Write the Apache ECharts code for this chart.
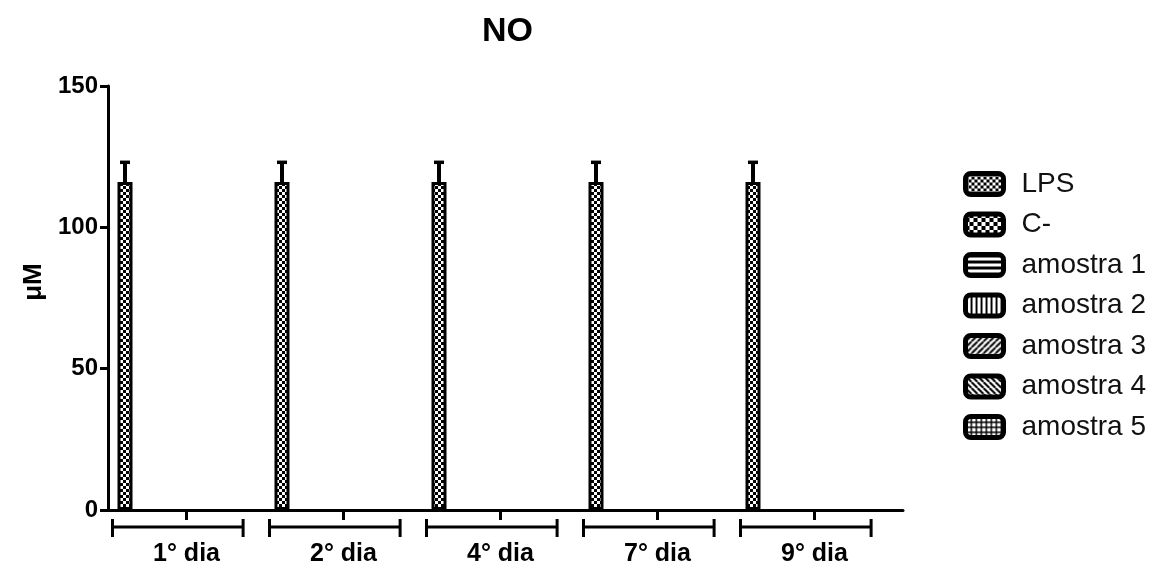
<!DOCTYPE html>
<html>
<head>
<meta charset="utf-8">
<script src="https://cdn.jsdelivr.net/npm/echarts@6/dist/echarts.min.js"></script>
<style>
  html, body { margin: 0; padding: 0; background: #fff; }
  #chart { width: 1150px; height: 563px; }
</style>
</head>
<body>
<div id="chart"></div>
<script>
// Nitric oxide (µM) per treatment and day
const categories = ['1° dia', '2° dia', '4° dia', '7° dia', '9° dia'];
const seriesNames = ['LPS', 'C-', 'amostra 1', 'amostra 2', 'amostra 3', 'amostra 4', 'amostra 5'];
const lps      = [116, 116, 116, 116, 116];
const lpsErr   = [7, 7, 7, 7, 7];
const cNeg     = [0, 0, 0, 0, 0];
const amostra1 = [0, 0, 0, 0, 0];
const amostra2 = [0, 0, 0, 0, 0];
const amostra3 = [0, 0, 0, 0, 0];
const amostra4 = [0, 0, 0, 0, 0];
const amostra5 = [0, 0, 0, 0, 0];
const yTicks   = [0, 50, 100, 150];

const seriesValues = [lps, cNeg, amostra1, amostra2, amostra3, amostra4, amostra5];
const seriesErrors = [lpsErr, null, null, null, null, null, null];

const FONT = '"Liberation Sans", Arial, sans-serif';

// black & white fill patterns
function pattern(size, bg, draw) {
  const c = document.createElement('canvas');
  c.width = c.height = size;
  const ctx = c.getContext('2d');
  ctx.fillStyle = bg;
  ctx.fillRect(0, 0, size, size);
  draw(ctx, size);
  return { image: c, repeat: 'repeat' };
}
const fills = [
  // fine checker
  pattern(6, '#000', (ctx) => { ctx.fillStyle = '#fff'; ctx.fillRect(0, 0, 3, 3); ctx.fillRect(3, 3, 3, 3); }),
  // coarse checker
  pattern(8, '#000', (ctx) => { ctx.fillStyle = '#fff'; ctx.fillRect(0, 0, 4, 4); ctx.fillRect(4, 4, 4, 4); }),
  // horizontal lines
  pattern(6, '#fff', (ctx) => { ctx.fillStyle = '#000'; ctx.fillRect(0, 0, 6, 3); }),
  // vertical lines
  pattern(5, '#fff', (ctx) => { ctx.fillStyle = '#000'; ctx.fillRect(0, 0, 2, 5); }),
  // forward diagonals
  pattern(6, '#fff', (ctx, s) => {
    ctx.strokeStyle = '#000'; ctx.lineWidth = 2;
    ctx.beginPath();
    for (let k = -s; k <= s; k += s) { ctx.moveTo(k, s); ctx.lineTo(k + s, 0); }
    ctx.stroke();
  }),
  // backward diagonals
  pattern(6, '#fff', (ctx, s) => {
    ctx.strokeStyle = '#000'; ctx.lineWidth = 2;
    ctx.beginPath();
    for (let k = -s; k <= s; k += s) { ctx.moveTo(k, 0); ctx.lineTo(k + s, s); }
    ctx.stroke();
  }),
  // small grid
  pattern(5, '#fff', (ctx) => { ctx.fillStyle = '#000'; ctx.fillRect(0, 0, 5, 1.5); ctx.fillRect(0, 0, 1.5, 5); })
];

// bar geometry
const BAR_W = 15;
const BAR_GAP = 0.24;
const groupW = seriesNames.length * BAR_W + (seriesNames.length - 1) * BAR_W * BAR_GAP;
function barCenterOffset(si) {
  return -groupW / 2 + BAR_W / 2 + si * BAR_W * (1 + BAR_GAP);
}

// empty bars get no outline so nothing is stroked along the baseline
const barSeries = seriesNames.map((name, si) => ({
  name,
  type: 'bar',
  xAxisIndex: 0,
  yAxisIndex: 0,
  barWidth: BAR_W,
  barGap: (BAR_GAP * 100) + '%',
  data: seriesValues[si].map((v) => (v === 0 ? { value: v, itemStyle: { borderWidth: 0, opacity: 0 } } : v)),
  itemStyle: { color: fills[si], borderColor: '#000', borderWidth: 3 },
  emphasis: { disabled: true },
  z: 2
}));

// error bars (mean + SEM)
const errorData = [];
seriesValues.forEach((vals, si) => {
  if (!seriesErrors[si]) return;
  vals.forEach((v, i) => errorData.push([i, v, v + seriesErrors[si][i], si]));
});
const errorSeries = {
  type: 'custom',
  xAxisIndex: 0,
  yAxisIndex: 0,
  z: 3,
  clip: false,
  silent: true,
  data: errorData,
  renderItem(params, api) {
    const i = api.value(0);
    const base = api.coord([i, api.value(1)]);
    const top = api.coord([i, api.value(2)]);
    const x = base[0] + barCenterOffset(api.value(3));
    return {
      type: 'group',
      children: [
        { type: 'line', shape: { x1: x, y1: base[1], x2: x, y2: top[1] }, style: { stroke: '#000', lineWidth: 4 } },
        { type: 'line', shape: { x1: x - 5, y1: top[1], x2: x + 5, y2: top[1] }, style: { stroke: '#000', lineWidth: 3.5 } }
      ]
    };
  }
};

// bracket under each group of bars
const bracketSeries = {
  type: 'custom',
  xAxisIndex: 0,
  yAxisIndex: 0,
  z: 3,
  clip: false,
  silent: true,
  data: categories.map((c, i) => [i, 0]),
  renderItem(params, api) {
    const p = api.coord([api.value(0), 0]);
    const x0 = p[0] - groupW / 2 - 5;
    const x1 = p[0] + groupW / 2 - 1;
    const y = p[1] + 17;
    const s = { stroke: '#000', lineWidth: 3 };
    return {
      type: 'group',
      children: [
        { type: 'line', shape: { x1: x0, y1: y, x2: x1, y2: y }, style: s },
        { type: 'line', shape: { x1: x0, y1: y - 8, x2: x0, y2: y + 10 }, style: s },
        { type: 'line', shape: { x1: x1, y1: y - 8, x2: x1, y2: y + 10 }, style: s }
      ]
    };
  }
};

const chart = echarts.init(document.getElementById('chart'), null, { renderer: 'canvas' });
chart.setOption({
  animation: false,
  backgroundColor: '#fff',
  title: {
    text: 'NO',
    left: 477,
    top: 10,
    textStyle: { fontFamily: FONT, fontSize: 34, fontWeight: 'bold', color: '#000' }
  },
  legend: {
    orient: 'vertical',
    left: 963,
    top: 170,
    padding: 0,
    itemWidth: 38,
    itemHeight: 21,
    itemGap: 12.5,
    icon: 'roundRect',
    data: seriesNames,
    selectedMode: false,
    itemStyle: { borderColor: '#000', borderWidth: 5 },
    textStyle: { fontFamily: FONT, fontSize: 28, lineHeight: 28, color: '#111', padding: [0, 0, 0, 13] }
  },
  grid: [
    // bars
    { left: 102.3, width: 785, top: 86, bottom: 53, outerBoundsMode: 'none' },
    // visible axes
    { left: 108, width: 795, top: 86, bottom: 53, outerBoundsMode: 'none' }
  ],
  xAxis: [
    {
      type: 'category', gridIndex: 0, data: categories,
      axisLine: { show: false }, axisTick: { show: false }, axisLabel: { show: false }, splitLine: { show: false }
    },
    {
      type: 'value', gridIndex: 1,
      min: 0,
      // axis line runs a little past the last group
      max: categories.length + 0.064,
      axisLine: { show: true, lineStyle: { color: '#000', width: 3 } },
      axisTick: {
        show: true, inside: false, length: 10,
        customValues: categories.map((c, i) => i + 0.5),
        lineStyle: { color: '#000', width: 3 }
      },
      axisLabel: {
        show: true, margin: 32,
        customValues: categories.map((c, i) => i + 0.5),
        formatter: (v) => categories[Math.floor(v)],
        fontFamily: FONT, fontSize: 25, fontWeight: 'bold', color: '#000'
      },
      splitLine: { show: false }
    }
  ],
  yAxis: [
    {
      type: 'value', gridIndex: 0, min: 0, max: 150, interval: 50,
      axisLine: { show: false }, axisTick: { show: false }, axisLabel: { show: false }, splitLine: { show: false }
    },
    {
      type: 'value', gridIndex: 1, min: yTicks[0], max: yTicks[yTicks.length - 1], interval: yTicks[1] - yTicks[0],
      name: 'μM',
      nameLocation: 'middle',
      nameGap: 59,
      nameRotate: 90,
      nameTextStyle: { fontFamily: FONT, fontSize: 26, fontWeight: 'bold', color: '#000', padding: [0, 0, 0, 32] },
      axisLine: { show: true, lineStyle: { color: '#000', width: 3 } },
      axisTick: { show: true, inside: false, length: 8, lineStyle: { color: '#000', width: 3 } },
      axisLabel: { margin: 10, fontFamily: FONT, fontSize: 24, fontWeight: 'bold', color: '#000' },
      splitLine: { show: false }
    }
  ],
  series: [...barSeries, errorSeries, bracketSeries]
});
</script>
</body>
</html>
